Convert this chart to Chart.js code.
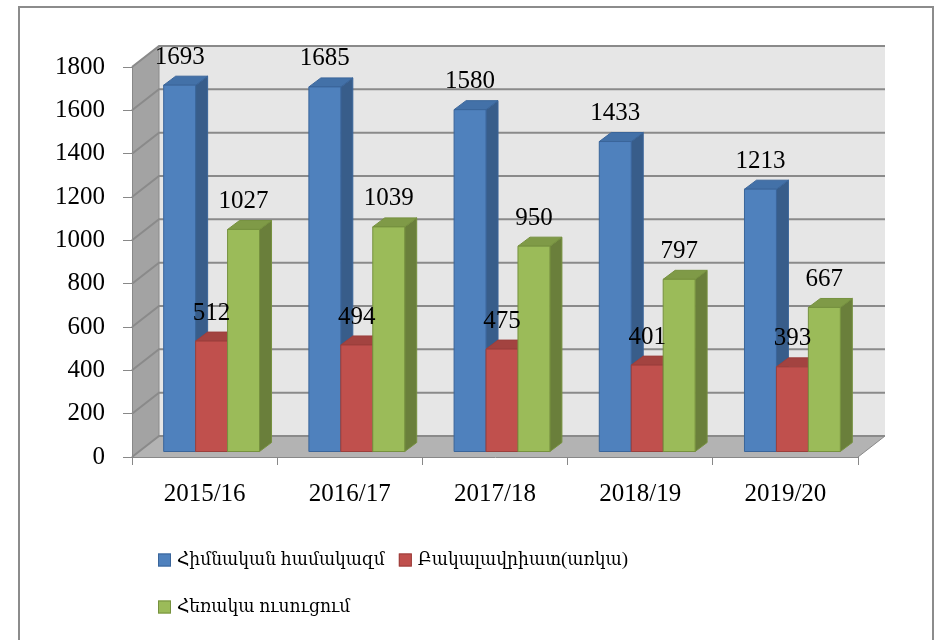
<!DOCTYPE html>
<html>
<head>
<meta charset="utf-8">
<script src="https://cdn.jsdelivr.net/npm/chart.js@4.4.1/dist/chart.umd.min.js"></script>
<style>
  html, body { margin: 0; padding: 0; background: #fff; }
  canvas { display: block; }
</style>
</head>
<body>
<canvas id="chart" width="941" height="640"></canvas>
<script>
// data
const years = ['2015/16', '2016/17', '2017/18', '2018/19', '2019/20'];
const mainStaff = [1693, 1685, 1580, 1433, 1213];
const bachelor = [512, 494, 475, 401, 393];
const distance = [1027, 1039, 950, 797, 667];
const seriesNames = ['Հիմնական համակազմ', 'Բակալավրիատ(առկա)', 'Հեռակա ուսուցում'];
const yMin = 0, yMax = 1800, yStep = 200;

// face colours for the fake 3d bars
const faces = [
    { front: '#4f81bd', side: '#385d8a', top: '#4371a8', edge: '#3a659a' },
    { front: '#c0504d', side: '#8c3836', top: '#a34340', edge: '#9b3f3c' },
    { front: '#9bbb59', side: '#6a7f3b', top: '#7f9a47', edge: '#76913f' }
];

const SERIF = '"Liberation Serif", "DejaVu Serif", serif';
const WALL = { x: 27, y: -21 };      // depth of the back wall
const SHIFT = { x: 7, y: -5 };       // bars sit a bit behind the front plane
const DEPTH = { x: 12, y: -9 };      // depth of a bar
const LEGEND_ROWS = [[0, 1], [2]];

function poly(ctx, pts, fill, stroke) {
    ctx.beginPath();
    ctx.moveTo(pts[0][0], pts[0][1]);
    for (let i = 1; i < pts.length; i++) ctx.lineTo(pts[i][0], pts[i][1]);
    ctx.closePath();
    if (fill) { ctx.fillStyle = fill; ctx.fill(); }
    if (stroke) { ctx.strokeStyle = stroke; ctx.stroke(); }
}

function drawBar(ctx, left, top, right, bottom, c) {
    const dx = DEPTH.x, dy = DEPTH.y;
    ctx.lineWidth = 1;
    poly(ctx, [[right, bottom], [right + dx, bottom + dy], [right + dx, top + dy], [right, top]], c.side, c.edge);
    poly(ctx, [[left, top], [left + dx, top + dy], [right + dx, top + dy], [right, top]], c.top, c.edge);
    poly(ctx, [[left, top], [right, top], [right, bottom], [left, bottom]], c.front, c.edge);
}

const box3d = {
    id: 'box3d',
    beforeDraw(chart) {
        const ctx = chart.ctx;
        const { left, right, top, bottom } = chart.chartArea;
        const y = chart.scales.y;
        ctx.save();
        ctx.fillStyle = '#fff';
        ctx.fillRect(0, 0, chart.width, chart.height);
        // back wall
        poly(ctx, [[left + WALL.x, top + WALL.y], [right + WALL.x, top + WALL.y],
                   [right + WALL.x, bottom + WALL.y], [left + WALL.x, bottom + WALL.y]], '#e6e6e6');
        // left wall
        poly(ctx, [[left, top], [left + WALL.x, top + WALL.y], [left + WALL.x, bottom + WALL.y], [left, bottom]], '#a3a3a3');
        // floor
        poly(ctx, [[left, bottom], [right, bottom], [right + WALL.x, bottom + WALL.y], [left + WALL.x, bottom + WALL.y]], '#b3b3b3');
        // grid lines
        ctx.strokeStyle = '#8a8a8a';
        ctx.lineWidth = 2;
        y.ticks.forEach(t => {
            const py = y.getPixelForValue(t.value);
            ctx.beginPath();
            ctx.moveTo(left, py);
            ctx.lineTo(left + WALL.x, py + WALL.y);
            ctx.lineTo(right + WALL.x, py + WALL.y);
            ctx.stroke();
        });
        ctx.lineWidth = 1;
        ctx.beginPath();
        ctx.moveTo(left + WALL.x, top + WALL.y);
        ctx.lineTo(left + WALL.x, bottom + WALL.y);
        ctx.moveTo(right, bottom);
        ctx.lineTo(right + WALL.x, bottom + WALL.y);
        ctx.stroke();
        ctx.restore();
    },
    beforeDatasetDraw() {
        return false; // bars are drawn below, category by category
    },
    afterDatasetsDraw(chart) {
        const ctx = chart.ctx;
        ctx.save();
        ctx.translate(SHIFT.x, SHIFT.y);
        const metas = chart.data.datasets.map((d, i) => chart.getDatasetMeta(i));
        for (let j = 0; j < chart.data.labels.length; j++) {
            metas.forEach((meta, i) => {
                const b = meta.data[j].getProps(['x', 'y', 'base', 'width'], true);
                drawBar(ctx, b.x - b.width / 2, b.y, b.x + b.width / 2, b.base, faces[i]);
            });
        }
        ctx.fillStyle = '#000';
        ctx.font = '25px ' + SERIF;
        ctx.textAlign = 'center';
        ctx.textBaseline = 'middle';
        metas.forEach((meta, i) => {
            meta.data.forEach((el, j) => {
                const b = el.getProps(['x', 'y'], true);
                ctx.fillText(String(chart.data.datasets[i].data[j]), b.x, b.y - 28);
            });
        });
        ctx.restore();
    },
    afterDraw(chart) {
        const ctx = chart.ctx;
        ctx.save();
        // legend
        ctx.font = '19px ' + SERIF;
        if ('fontStretch' in ctx) ctx.fontStretch = 'condensed';
        ctx.textBaseline = 'middle';
        ctx.textAlign = 'left';
        LEGEND_ROWS.forEach((row, r) => {
            let x = 158;
            const yc = 560 + r * 47;
            row.forEach(i => {
                ctx.fillStyle = faces[i].front;
                ctx.fillRect(x, yc - 6.5, 13, 13);
                ctx.strokeStyle = faces[i].edge;
                ctx.lineWidth = 1;
                ctx.strokeRect(x + 0.5, yc - 6, 12, 12);
                ctx.fillStyle = '#000';
                ctx.fillText(chart.data.datasets[i].label, x + 19, yc);
                x += 19 + ctx.measureText(chart.data.datasets[i].label).width + 14;
            });
        });
        // outer frame
        ctx.strokeStyle = '#8c8c8c';
        ctx.lineWidth = 2;
        ctx.strokeRect(19, 7, 914, 700);
        ctx.restore();
    }
};

new Chart(document.getElementById('chart'), {
    type: 'bar',
    data: {
        labels: years,
        datasets: [
            { label: seriesNames[0], data: mainStaff, backgroundColor: faces[0].front },
            { label: seriesNames[1], data: bachelor, backgroundColor: faces[1].front },
            { label: seriesNames[2], data: distance, backgroundColor: faces[2].front }
        ]
    },
    options: {
        responsive: false,
        devicePixelRatio: 1,
        animation: false,
        layout: { padding: { left: 20, right: 83, top: 67, bottom: 0 } },
        datasets: { bar: { categoryPercentage: 0.66, barPercentage: 1.0 } },
        plugins: {
            legend: { display: false },
            tooltip: { enabled: false }
        },
        scales: {
            x: {
                afterFit(scale) { scale.height = 183; },
                grid: { drawOnChartArea: false, drawTicks: true, tickLength: 8, color: '#888' },
                border: { display: true, color: '#888' },
                ticks: { color: '#000', font: { family: SERIF, size: 25 }, padding: 14 }
            },
            y: {
                min: yMin,
                max: yMax,
                afterFit(scale) { scale.width = 112; },
                grid: { drawOnChartArea: false, drawTicks: true, tickLength: 9, color: '#888' },
                border: { display: true, color: '#888' },
                ticks: {
                    stepSize: yStep,
                    color: '#000',
                    font: { family: SERIF, size: 25 },
                    padding: 18,
                    callback: v => String(v)
                }
            }
        }
    },
    plugins: [box3d]
});
</script>
</body>
</html>
